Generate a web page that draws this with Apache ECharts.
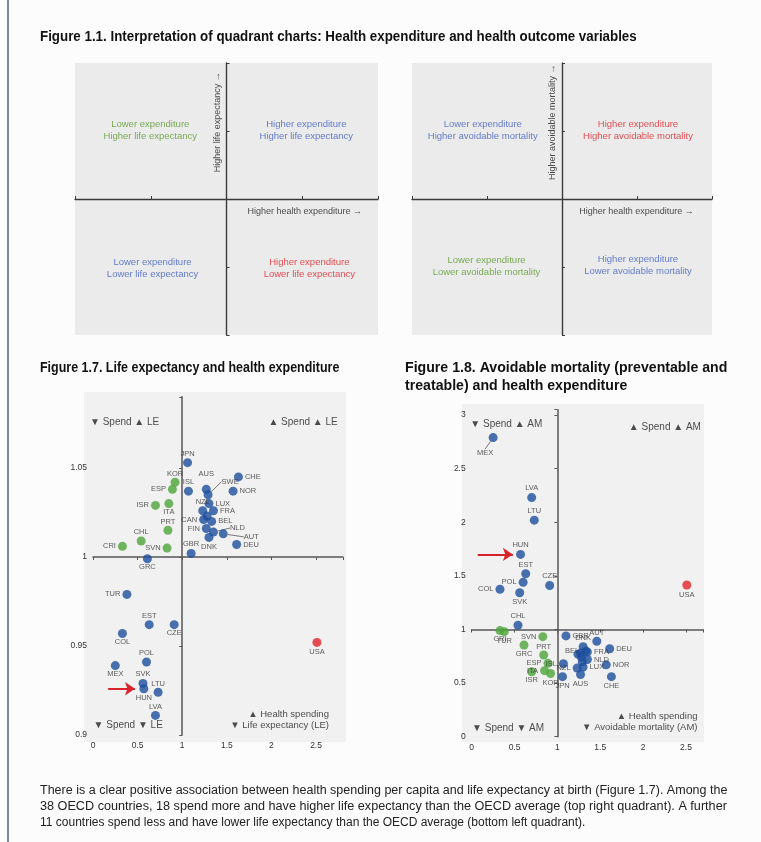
<!DOCTYPE html>
<html><head><meta charset="utf-8">
<script src="https://cdn.jsdelivr.net/npm/echarts@6/dist/echarts.min.js"></script>
<style>html,body{margin:0;padding:0;background:#fcfcfc}#c{width:761px;height:842px}</style>
</head><body><div id="c"></div>
<script>
// ---------------- DATA ----------------
const countries = ['AUS','AUT','BEL','CAN','CHE','CHL','COL','CRI','CZE','DEU','DNK','ESP','EST','FIN','FRA','GBR','GRC','HUN','IRL','ISL','ISR','ITA','JPN','KOR','LTU','LUX','LVA','MEX','NLD','NOR','NZL','POL','PRT','SVK','SVN','SWE','TUR','USA'];
// Health spending per capita relative to OECD average
const spend = [1.27,1.46,1.33,1.24,1.63,0.54,0.33,0.33,0.91,1.61,1.30,0.89,0.63,1.27,1.35,1.10,0.61,0.57,1.28,1.07,0.70,0.85,1.06,0.92,0.73,1.30,0.70,0.25,1.35,1.57,1.23,0.60,0.84,0.56,0.83,1.29,0.38,2.51];
// Life expectancy relative to OECD average
const lifeExp = [1.038,1.013,1.020,1.021,1.045,1.009,0.957,1.006,0.962,1.007,1.011,1.038,0.962,1.016,1.026,1.002,0.999,0.926,1.023,1.037,1.029,1.030,1.053,1.042,0.924,1.030,0.911,0.939,1.014,1.037,1.026,0.941,1.015,0.929,1.005,1.035,0.979,0.952];
// Avoidable mortality relative to OECD average
const avoidMort = [0.58,0.89,0.80,0.77,0.56,1.04,1.375,0.99,1.41,0.82,0.84,0.685,1.52,0.78,0.79,0.94,0.855,1.70,0.74,0.68,0.606,0.616,0.56,0.59,2.02,0.65,2.23,2.79,0.72,0.67,0.64,1.44,0.762,1.343,0.933,0.70,0.98,1.415];

const xTicks17 = ['0','0.5','1','1.5','2','2.5'];
const yTicks17 = ['0.9','0.95','1','1.05'];
const xTicks18 = ['0','0.5','1','1.5','2','2.5'];
const yTicks18 = ['0','0.5','1','1.5','2','2.5','3'];

const quadLE = ['Lower expenditure\nHigher life expectancy','Higher expenditure\nHigher life expectancy','Lower expenditure\nLower life expectancy','Higher expenditure\nLower life expectancy'];
const quadAM = ['Lower expenditure\nHigher avoidable mortality','Higher expenditure\nHigher avoidable mortality','Lower expenditure\nLower avoidable mortality','Higher expenditure\nLower avoidable mortality'];
const ann17 = ['▼ Spend ▲ LE','▲ Spend ▲ LE','▼ Spend ▼ LE','▲ Health spending','▼ Life expectancy (LE)'];
const ann18 = ['▼ Spend ▲ AM','▲ Spend ▲ AM','▼ Spend ▼ AM','▲ Health spending','▼ Avoidable mortality (AM)'];
const highlighted = 'HUN';

const titles = [
 'Figure 1.1. Interpretation of quadrant charts: Health expenditure and health outcome variables',
 'Figure 1.7. Life expectancy and health expenditure',
 'Figure 1.8. Avoidable mortality (preventable and',
 'treatable) and health expenditure'
];
const paragraph = [
 'There is a clear positive association between health spending per capita and life expectancy at birth (Figure 1.7). Among the',
 '38 OECD countries, 18 spend more and have higher life expectancy than the OECD average (top right quadrant). A further',
 '11 countries spend less and have lower life expectancy than the OECD average (bottom left quadrant).'
];

// ---------------- STYLE / LAYOUT ----------------
const FONT = "'Liberation Sans Narrow','Arial Narrow','Liberation Sans',Arial,sans-serif";
const C_BLUE = '#1d4f9e', C_GREEN = '#4ea53a', C_RED = '#e2242b';
const Q_GREEN = '#5a9a2c', Q_BLUE = '#3f5fc6', Q_RED = '#e0242a';
const quadColorsLE = [Q_GREEN, Q_BLUE, Q_BLUE, Q_RED];
const quadColorsAM = [Q_BLUE, Q_RED, Q_GREEN, Q_BLUE];
const quadPosLE = [[-1.0,1.0],[1.06,1.0],[-0.97,-1.03],[1.1,-1.03]];
const quadPosAM = [[-1.05,1.0],[1.02,1.0],[-1.0,-1.0],[1.02,-0.98]];

const place17 = {JPN:'tr',KOR:'tl',ESP:'l',ISL:'t',AUS:'tA',SWE:'r',CHE:'r',NOR:'r',ISR:'l',ITA:'br',NZL:'tl',LUX:'r',FRA:'r',PRT:'tl',CAN:'l',BEL:'r',FIN:'l',NLD:'r',AUT:'r',DNK:'b',GBR:'t',DEU:'r',CHL:'t',SVN:'l',CRI:'l',GRC:'bl',TUR:'l',EST:'tl',CZE:'bl',COL:'bl',MEX:'bl',POL:'t',SVK:'t',HUN:'b',LTU:'tr',LVA:'tr',USA:'b'};
const leader17 = {SWE:[7,-13],NLD:[10,-4],AUT:[14,3]};
const place18 = {MEX:'b',LVA:'t',LTU:'t',HUN:'t',EST:'tr',POL:'l',CZE:'t',COL:'l',SVK:'b',CHL:'t',CRI:'bl',TUR:'b',SVN:'l',PRT:'tl',GRC:'bl',ESP:'l',ITA:'l',ISR:'bl',KOR:'b',GBR:'r',AUT:'tr',DNK:'tl',BEL:'l',FRA:'r',DEU:'r',NLD:'r',NOR:'r',LUX:'r',CHE:'b',AUS:'b',JPN:'b',ISL:'l',NZL:'l',USA:'b'};
const leader18 = {MEX:[-8,6]};

const PLACES = {
  r:{position:'right',distance:2}, l:{position:'left',distance:2},
  t:{position:'top',distance:1}, b:{position:'bottom',distance:1},
  tr:{position:'top',distance:0,offset:[8,1]}, tl:{position:'top',distance:0,offset:[-8,1]},
  br:{position:'bottom',distance:0,offset:[8,-1]}, bl:{position:'bottom',distance:0,offset:[-8,-1]},
  tA:{position:'top',distance:7,offset:[5,0]}
};

function tickFmt(labels){
  return function(v){
    for (const s of labels){ if (Math.abs(parseFloat(s)-v) < 1e-7) return s; }
    return '';
  };
}

function buildPoints(yVals, place, leader, colorFn){
  return countries.map((c,i)=>{
    const x = spend[i], y = yVals[i];
    const p = place[c];
    const item = {name:c, value:[x,y], itemStyle:{color:colorFn(x,y)}};
    if (p){ item.label = Object.assign({show:true}, PLACES[p]); }
    else item.label = {show:false};
    if (leader[c]) item.labelLine = {show:true, lineStyle:{color:'#555',width:0.8}};
    return item;
  });
}
const color17 = (x,y)=> (x<1 && y>1) ? C_GREEN : (x>1 && y<1) ? C_RED : C_BLUE;
const color18 = (x,y)=> (x<1 && y<1) ? C_GREEN : (x>1 && y>1) ? C_RED : C_BLUE;

function textItem(x,y,text,opts){
  return {value:[x,y], label:Object.assign({show:true, formatter:text, position:[0,0], align:'center', verticalAlign:'middle'}, opts||{})};
}

const hunIdx = countries.indexOf(highlighted);

function quadSeries(gi, texts, colors, pos, yName, xName){
  const data = texts.map((t,i)=>textItem(pos[i][0],pos[i][1],t,{color:colors[i],fontSize:9.5,lineHeight:12,fontFamily:FONT}));
  data.push(textItem(0,1.12,yName,{color:'#222',fontSize:9,fontFamily:FONT,rotate:90,position:[-4,0],verticalAlign:'bottom'}));
  data.push(textItem(pos[1][0]-0.02,0,xName,{color:'#222',fontSize:9,fontFamily:FONT,position:[0,9],verticalAlign:'top'}));
  return {type:'scatter', xAxisIndex:gi, yAxisIndex:gi, symbolSize:1, itemStyle:{color:'rgba(0,0,0,0)'}, silent:true, data:data, z:5};
}

function annSeries(ax, texts, pos, arrowY){
  const data = texts.map((t,i)=>textItem(pos[i][0],pos[i][1],t,{color:'#222',fontSize:pos[i][3],fontFamily:FONT,align:pos[i][2]}));
  const hx = spend[hunIdx];
  return {type:'scatter', xAxisIndex:ax, yAxisIndex:ax, symbolSize:1, itemStyle:{color:'rgba(0,0,0,0)'}, silent:true, data:data, z:6,
    markLine:{silent:true, symbol:['none','arrow'], symbolSize:10, label:{show:false},
      lineStyle:{color:'#d8232a',width:2,type:'solid'},
      emphasis:{disabled:true},
      data:[[{coord:[hx-arrowY[1], arrowY[0]]},{coord:[hx-arrowY[2], arrowY[0]]}]]}};
}

function pointSeries(ax, yVals, place, leader, colorFn){
  return {type:'scatter', xAxisIndex:ax, yAxisIndex:ax, symbolSize:9, silent:true, z:4,
    data:buildPoints(yVals, place, leader, colorFn),
    label:{show:true, formatter:'{b}', color:'#333', fontSize:7.5, fontFamily:FONT},
    labelLayout:function(p){ const d = leader[countries[p.dataIndex]]; return d ? {dx:d[0], dy:d[1]} : {}; }
  };
}

const panelX = gi => ({type:'value', gridIndex:gi, min:-2, max:2, interval:1,
  axisLine:{show:true, onZero:true, lineStyle:{color:'#3a3a3a',width:1.4}},
  axisTick:{show:true,length:3,inside:true,lineStyle:{color:'#3a3a3a'}}, axisLabel:{show:false}, splitLine:{show:false}});

const labelAxisX = (gi,min,max,interval,labels)=>({type:'value', gridIndex:gi, min, max, interval,
  axisLine:{show:false,onZero:false}, axisTick:{show:false}, splitLine:{show:false},
  axisLabel:{show:true, margin:6, color:'#333', fontSize:8.5, fontFamily:FONT, formatter:tickFmt(labels), showMaxLabel:true}});
const crossAxis = (gi,min,max,interval,zeroIdx)=>({type:'value', gridIndex:gi, min, max, interval,
  axisLine:{show:true, onZero:true, onZeroAxisIndex:zeroIdx, lineStyle:{color:'#555',width:1.5}},
  axisTick:{show:true,length:3,inside:true,lineStyle:{color:'#555'}}, axisLabel:{show:false}, splitLine:{show:false}});

function textEl(x,y,text,font,sx,fill){
  return {type:'text', x:x, y:y, scaleX:sx, style:{text:text, font:font, fill:fill, verticalAlign:'top'}};
}

const chart = echarts.init(document.getElementById('c'), null, {renderer:'canvas'});
const ann17Pos = [[0.36,1.0754,'center',10],[2.36,1.0754,'center',10],[0.40,0.9052,'center',10],[2.65,0.9112,'right',9.5],[2.65,0.9052,'right',9.5]];
const ann18Pos = [[0.41,2.908,'center',10],[2.26,2.886,'center',10],[0.43,0.078,'center',10],[2.64,0.187,'right',9.5],[2.64,0.08,'right',9.5]];

chart.setOption({
  animation:false,
  backgroundColor:'#fcfcfc',
  grid:[
    {left:75, top:63, width:303, height:272, show:true, backgroundColor:'#ebebeb', borderWidth:0},
    {left:412, top:63, width:300, height:272, show:true, backgroundColor:'#ebebeb', borderWidth:0},
    {left:93, top:396.8, width:249.8, height:338.2},
    {left:471.7, top:409.7, width:231.4, height:327}
  ],
  xAxis:[
    panelX(0), panelX(1),
    labelAxisX(2,0,2.8,0.5,xTicks17),
    crossAxis(2,-1,1.8,0.5,3),
    labelAxisX(3,0,2.7,0.5,xTicks18),
    crossAxis(3,-1,1.7,0.5,5)
  ],
  yAxis:[
    panelX(0), panelX(1),
    labelAxisX(2,0.9,1.09,0.05,yTicks17),
    crossAxis(2,-0.1,0.09,0.05,3),
    labelAxisX(3,0,3.05,0.5,yTicks18),
    crossAxis(3,-1,2.05,0.5,5)
  ],
  graphic:[
    {type:'rect', z:-10, shape:{x:84,y:392,width:262,height:350}, style:{fill:'#f1f1f1'}},
    {type:'rect', z:-10, shape:{x:462,y:404,width:242,height:338}, style:{fill:'#f1f1f1'}},
    {type:'line', shape:{x1:8,y1:0,x2:8,y2:842}, style:{stroke:'#55617c',lineWidth:1.5}},
    textEl(40,29,titles[0],'bold 14.5px '+FONT,0.92,'#111'),
    textEl(40,360,titles[1],'bold 14.5px '+FONT,0.86,'#111'),
    textEl(405,360,titles[2],'bold 14.5px '+FONT,0.975,'#111'),
    textEl(405,378,titles[3],'bold 14.5px '+FONT,0.975,'#111'),
    textEl(40,785,paragraph[0],'12px '+FONT,1.043,'#222'),
    textEl(40,801,paragraph[1],'12px '+FONT,1.054,'#222'),
    textEl(40,817,paragraph[2],'12px '+FONT,1.0,'#222')
  ],
  series:[
    quadSeries(0, quadLE, quadColorsLE, quadPosLE, 'Higher life expectancy →', 'Higher health expenditure →'),
    quadSeries(1, quadAM, quadColorsAM, quadPosAM, 'Higher avoidable mortality →', 'Higher health expenditure →'),
    pointSeries(2, lifeExp, place17, leader17, color17),
    annSeries(2, ann17, ann17Pos, [lifeExp[hunIdx], 0.40, 0.10]),
    pointSeries(4, avoidMort, place18, leader18, color18),
    annSeries(4, ann18, ann18Pos, [avoidMort[hunIdx], 0.50, 0.09])
  ]
});
</script></body></html>
